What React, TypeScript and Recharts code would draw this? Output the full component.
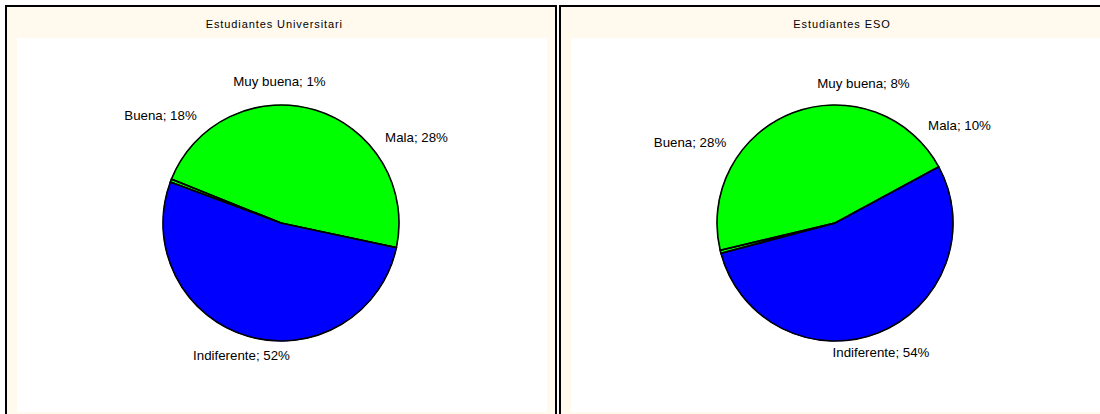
import React from 'react';
import { Cell, Pie, PieChart } from 'recharts';

// slice order as drawn, clockwise from the top
const CATEGORIES = ['Mala', 'Muy buena', 'Indiferente', 'NS/NC', 'Buena'];
const UNI_VALUES = [28, 1, 52, 0.4, 18];
const ESO_VALUES = [10, 8, 54, 0.4, 28];

const GREEN = '#00FF00';
const BLUE = '#0000FF';
const START = 93;
const IND = CATEGORIES.indexOf('Indiferente');

// label offsets from the pie centre (Excel placed these by hand)
const UNI_LABELS: Record<string, [number, number]> = {
    'Muy buena': [-1.5, -142],
    Buena: [-120.5, -108],
    Mala: [135.5, -86],
    Indiferente: [-39.5, 132],
};
const ESO_LABELS: Record<string, [number, number]> = {
    'Muy buena': [28.5, -139.5],
    Mala: [124.5, -98],
    Buena: [-145, -81],
    Indiferente: [46, 129],
};

const PiePanel: React.FC<{
    left: number;
    title: string;
    titleShift: number;
    clipW: number;
    values: number[];
    labels: Record<string, [number, number]>;
}> = ({ left, title, titleShift, clipW, values, labels }) => {
    const data = CATEGORIES.map((name, i) => ({ name, value: values[i] }));
    const total = values.reduce((a, b) => a + b, 0);

    // outline pie: only the borders that show (around Indiferente and the thin slice)
    const before = values.slice(0, IND).reduce((a, b) => a + b, 0);
    const outline = [
        { name: 'a', value: values[IND] },
        { name: 'b', value: values[IND + 1] },
        { name: 'c', value: total - values[IND] - values[IND + 1] },
    ];
    const outStart = START - (before / total) * 360;

    const renderLabel = (p: any) => {
        const off = labels[p.name];
        if (!off) return null;
        return (
            <text x={p.cx + off[0]} y={p.cy + off[1]} textAnchor="middle" dominantBaseline="central" fontSize={13.3} fill="#000">
                {`${p.name}; ${p.value}%`}
            </text>
        );
    };

    return (
        <div style={{ position: 'absolute', left, top: 5, width: 552, height: 420, border: '2px solid #000', boxSizing: 'border-box', background: '#FFF9EE' }}>
            <div style={{ position: 'absolute', left: 0, top: 10, width: clipW, height: 15, overflow: 'hidden' }}>
                <div style={{ width: 548, paddingLeft: titleShift * 2, boxSizing: 'border-box', textAlign: 'center', fontSize: 11, lineHeight: '15px', letterSpacing: 0.9, whiteSpace: 'nowrap', color: '#000' }}>
                    {title}
                </div>
            </div>
            <div style={{ position: 'absolute', left: 10, top: 31, width: 530, height: 374, background: '#fff' }}>
                <PieChart width={530} height={374} margin={{ top: 0, right: 0, bottom: 0, left: 0 }}>
                    <Pie
                        data={data}
                        dataKey="value"
                        nameKey="name"
                        cx={264}
                        cy={185}
                        outerRadius={118}
                        startAngle={START}
                        endAngle={START - 360}
                        label={renderLabel}
                        labelLine={false}
                        isAnimationActive={false}
                    >
                        {data.map((d, i) => {
                            const c = d.name === 'Indiferente' ? BLUE : GREEN;
                            return <Cell key={`c-${i}`} fill={c} stroke={c} strokeWidth={1} />;
                        })}
                    </Pie>
                    <Pie
                        data={outline}
                        dataKey="value"
                        nameKey="name"
                        cx={264}
                        cy={185}
                        outerRadius={118}
                        startAngle={outStart}
                        endAngle={outStart - 360}
                        fill="none"
                        stroke="#000"
                        strokeWidth={1.6}
                        isAnimationActive={false}
                    />
                </PieChart>
            </div>
        </div>
    );
};

export default function App() {
    return (
        <div style={{ position: 'absolute', left: 0, top: 0, width: 1100, height: 414, overflow: 'hidden', background: '#fff', fontFamily: '"Liberation Sans", Arial, sans-serif' }}>
            <PiePanel left={5} title="Estudiantes Universitarios" titleShift={0} clipW={336} values={UNI_VALUES} labels={UNI_LABELS} />
            <PiePanel left={559} title="Estudiantes ESO" titleShift={7} clipW={548} values={ESO_VALUES} labels={ESO_LABELS} />
        </div>
    );
}
